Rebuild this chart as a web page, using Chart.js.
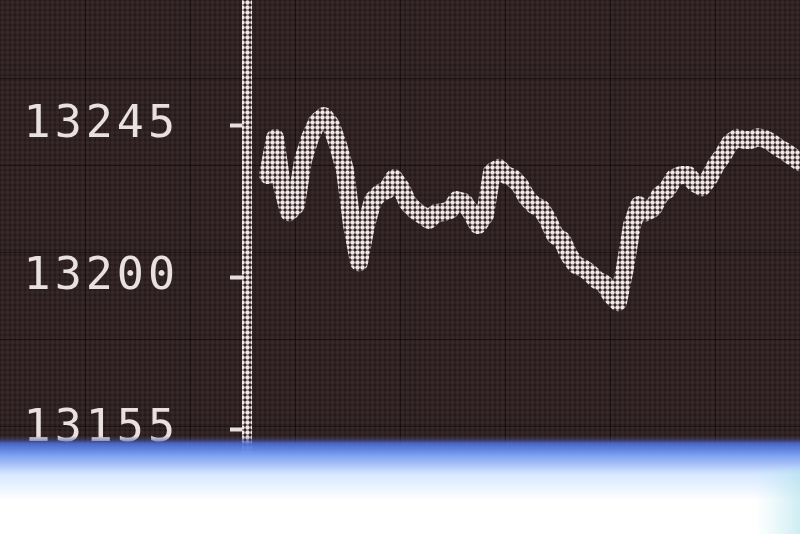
<!DOCTYPE html>
<html>
<head>
<meta charset="utf-8">
<script src="https://cdn.jsdelivr.net/npm/chart.js@4.4.0/dist/chart.umd.min.js"></script>
<style>
  html, body { margin: 0; padding: 0; background: #2c1d1e; }
  canvas { display: block; }
</style>
</head>
<body>
<canvas id="board" width="800" height="534"></canvas>
<script>
// index level (first three slots are empty space before the curve)
const ticks = [];
const prices = [
  null, null, null,
  13230.2, 13241.2, 13227.2, 13219.2, 13221.3, 13234.6, 13241.2, 13245.9, 13247.7, 13245.0,
  13239.1, 13231.7, 13215.4, 13204.4, 13215.4, 13222.8, 13224.9, 13225.8, 13229.3, 13226.4,
  13221.9, 13219.8, 13218.4, 13216.9, 13219.0, 13219.2, 13219.8, 13222.8, 13222.2, 13219.2,
  13215.4, 13218.4, 13231.1, 13232.3, 13230.2, 13229.3, 13227.2, 13223.4, 13221.3, 13220.4,
  13216.9, 13212.4, 13211.0, 13206.5, 13203.6, 13202.7, 13201.2, 13199.1, 13198.2, 13194.7,
  13192.6, 13202.7, 13215.4, 13221.3, 13219.2, 13220.4, 13224.3, 13225.8, 13229.3, 13230.2,
  13230.2, 13227.8, 13226.6, 13229.3, 13233.2, 13236.1, 13239.7, 13241.2, 13240.6, 13240.6,
  13241.4, 13240.9, 13239.7, 13238.2, 13237.0, 13235.5, 13234.0
];
prices.forEach((p, i) => ticks.push(String(i)));
const levels = [13155, 13200, 13245];
const yMin = 13124, yMax = 13282;

// LED dot pattern
function ledPattern(ctx, dot, bg) {
  const c = document.createElement('canvas');
  c.width = 5; c.height = 5;
  const g = c.getContext('2d');
  if (bg) { g.fillStyle = bg; g.fillRect(0, 0, 5, 5); }
  g.fillStyle = dot;
  g.beginPath();
  g.arc(2.5, 2.5, 2.2, 0, Math.PI * 2);
  g.fill();
  return ctx.createPattern(c, 'repeat');
}

const canvas = document.getElementById('board');
const ctx = canvas.getContext('2d');
const litDots = ledPattern(ctx, '#f1e7e9', null);
const darkDots = ledPattern(ctx, '#362829', '#271a1b');

const boardBackground = {
  id: 'boardBackground',
  beforeDraw(chart) {
    const c = chart.ctx;
    c.save();
    c.fillStyle = darkDots;
    c.fillRect(0, 0, chart.width, chart.height);
    // panel seams
    c.strokeStyle = 'rgba(10,4,4,0.5)';
    c.lineWidth = 1;
    for (let x = 85; x < chart.width; x += 105) {
      c.beginPath(); c.moveTo(x + 0.5, 0); c.lineTo(x + 0.5, chart.height); c.stroke();
    }
    for (let y = 78; y < chart.height; y += 87) {
      c.beginPath(); c.moveTo(0, y + 0.5); c.lineTo(chart.width, y + 0.5); c.stroke();
    }
    c.restore();
    c.letterSpacing = '4px';
  }
};

const glare = {
  id: 'glare',
  afterDraw(chart) {
    const c = chart.ctx;
    const w = chart.width, h = chart.height;
    c.save();
    const g = c.createLinearGradient(0, 436, 0, 500);
    g.addColorStop(0, 'rgba(60,70,140,0)');
    g.addColorStop(0.12, 'rgba(75,110,215,0.92)');
    g.addColorStop(0.3, 'rgba(125,160,240,1)');
    g.addColorStop(0.6, 'rgba(215,232,255,1)');
    g.addColorStop(1, 'rgba(255,255,255,1)');
    c.fillStyle = g;
    c.fillRect(0, 436, w, h - 436);
    const side = c.createLinearGradient(755, 0, w, 0);
    side.addColorStop(0, 'rgba(190,235,240,0)');
    side.addColorStop(1, 'rgba(175,225,235,0.6)');
    c.fillStyle = side;
    c.fillRect(755, 470, w - 755, h - 470);
    c.restore();
  }
};

new Chart(ctx, {
  type: 'line',
  data: {
    labels: ticks,
    datasets: [{
      data: prices,
      borderColor: litDots,
      borderWidth: 18,
      borderJoinStyle: 'round',
      borderCapStyle: 'round',
      pointRadius: 0,
      tension: 0,
      spanGaps: false
    }]
  },
  options: {
    responsive: false,
    animation: false,
    devicePixelRatio: 1,
    layout: { padding: 0 },
    plugins: { legend: { display: false }, tooltip: { enabled: false } },
    scales: {
      x: { display: false, offset: false },
      y: {
        min: yMin,
        max: yMax,
        afterBuildTicks: scale => { scale.ticks = levels.map(v => ({ value: v })); },
        afterFit: scale => {
          scale.width = 247;
          scale.paddingTop = 0;
          scale.paddingBottom = 0;
        },
        border: { display: true, color: litDots, width: 10 },
        grid: {
          drawOnChartArea: false,
          drawTicks: true,
          tickLength: 17,
          tickWidth: 4,
          tickColor: '#e8dedf'
        },
        ticks: {
          color: '#e9e0e1',
          padding: 51,
          font: { family: 'DejaVu Sans Mono', size: 45 },
          callback: v => String(v)
        }
      }
    }
  },
  plugins: [boardBackground, glare]
});
</script>
</body>
</html>
